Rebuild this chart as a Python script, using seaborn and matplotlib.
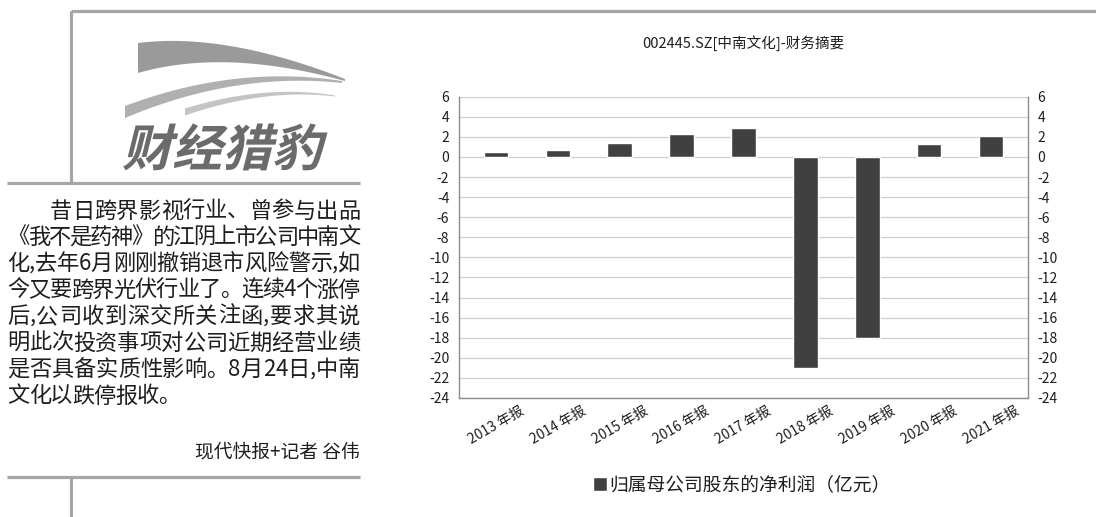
import numpy as np
import matplotlib
matplotlib.use("Agg")
import matplotlib.pyplot as plt
import seaborn as sns
from matplotlib.lines import Line2D
from matplotlib.patches import PathPatch, Polygon
from matplotlib.textpath import TextPath
from matplotlib.font_manager import FontProperties
from matplotlib.transforms import Affine2D

# data
years = ["2013 年报", "2014 年报", "2015 年报", "2016 年报", "2017 年报",
         "2018 年报", "2019 年报", "2020 年报", "2021 年报"]
profit = [0.53, 0.67, 1.43, 2.33, 2.93, -21.0, -18.0, 1.32, 2.05]
yticks = list(range(-24, 7, 2))

chart_title = "002445.SZ[中南文化]-财务摘要"
legend_text = "归属母公司股东的净利润（亿元）"

article = [
    "昔日跨界影视行业、曾参与出品",
    "《我不是药神》的江阴上市公司中南文",
    "化,去年6月刚刚撤销退市风险警示,如",
    "今又要跨界光伏行业了。连续4个涨停",
    "后,公司收到深交所关注函,要求其说",
    "明此次投资事项对公司近期经营业绩",
    "是否具备实质性影响。8月24日,中南",
    "文化以跌停报收。",
]
byline = "现代快报+记者 谷伟"

sns.set_theme(style="white")
plt.rcParams["font.family"] = ["Noto Sans CJK SC", "DejaVu Sans"]

W, H = 1096, 517
fig = plt.figure(figsize=(W / 100, H / 100), dpi=100)
fig.patch.set_facecolor("white")


def fx(x):
    return x / W


def fy(y):
    return 1 - y / H


# ---- chart ----
ax = fig.add_axes([fx(459), fy(398), (1028 - 459) / W, (398 - 96.7) / H])
sns.barplot(x=years, y=profit, color="#404040", saturation=1, width=0.4, ax=ax)
ax.set_xlim(-0.6, 8.6)
ax.set_ylim(-24, 6)
ax.set_yticks(yticks)
ax.set_yticklabels([str(v) for v in yticks])
ax.set_xticks(range(len(years)))
ax.set_xticklabels(years, rotation=30, ha="center")
ax.set_xticks(np.arange(-0.5, len(years), 1), minor=True)
ax.set_xlabel("")
ax.set_ylabel("")
ax.yaxis.grid(True, color="#cfcfcf", lw=0.9)
ax.set_axisbelow(True)
for s in ["left", "bottom", "right"]:
    ax.spines[s].set_color("#8c8c8c")
    ax.spines[s].set_linewidth(1)
ax.spines["top"].set_visible(False)
ax.tick_params(axis="y", length=0, pad=7, labelsize=10, labelcolor="#1e1e1e",
               labelright=True)
ax.tick_params(axis="x", which="major", length=0, pad=4, labelsize=10,
               labelcolor="#1e1e1e")
ax.tick_params(axis="x", which="minor", length=4, direction="in", color="#aaaaaa")

fig.text(fx(743), fy(43), chart_title, ha="center", va="center",
         fontsize=10.5, color="#1e1e1e")
fig.legend([ax.patches[0]], [legend_text], loc="center",
           bbox_to_anchor=(fx(742), fy(485)), frameon=False, fontsize=13.5,
           handlelength=0.7, handleheight=0.7, handletextpad=0.15,
           labelcolor="#1e1e1e")

# ---- left column frame ----
grey = "#a6a6a6"
frame = [((71, 1096), (10.5, 10.5)), ((71, 71), (10.5, 183)),
         ((7, 360), (183, 183)), ((7, 360), (477, 477)), ((71, 71), (477, 517))]
for xs, ys in frame:
    fig.add_artist(Line2D([fx(v) for v in xs], [fy(v) for v in ys],
                          color=grey, lw=2.3, solid_capstyle="butt"))

# logo: swoosh bands + slanted title
def band(p0, c, p1, t0, t1, col):
    t = np.linspace(0, 1, 40)[:, None]
    pts = (1 - t) ** 2 * np.array(p0) + 2 * (1 - t) * t * np.array(c) + t ** 2 * np.array(p1)
    th = (t0 + (t1 - t0) * t[:, 0])
    top = pts.copy()
    top[:, 1] -= th / 2
    bot = pts.copy()
    bot[:, 1] += th / 2
    poly = np.vstack([top, bot[::-1]])
    fig.add_artist(Polygon([(fx(x), fy(y)) for x, y in poly], closed=True,
                           facecolor=col, edgecolor="none"))

band((138, 58), (225, 40), (345, 80), 30, 2, "#9a9a9a")
band((125, 112), (235, 68), (342, 82), 12, 2, "#b0b0b0")
band((185, 112), (265, 86), (335, 96), 7, 1, "#c4c4c4")

tp = TextPath((0, 0), "财经猎豹", size=50,
              prop=FontProperties(family="Noto Sans CJK SC", weight="bold"))
tr = Affine2D().skew_deg(14, 0).translate(122, H - 166).scale(1 / W, 1 / H) + fig.transFigure
fig.add_artist(PathPatch(tp, transform=tr, facecolor="#6b6b6b", edgecolor="none"))

# ---- article text, justified per character ----
renderer = fig.canvas.get_renderer()
line_y = [211, 237, 263.5, 290, 316.5, 343, 369.5, 396]
for i, (line, y) in enumerate(zip(article, line_y)):
    x0 = 50 if i == 0 else 7
    texts = [fig.text(0, fy(y), ch, ha="left", va="center", fontsize=16,
                      color="#1e1e1e") for ch in line]
    widths = [t.get_window_extent(renderer).width for t in texts]
    if i == len(article) - 1:
        # last line is not justified: plain character pitch
        for k, t in enumerate(texts):
            t.set_x(fx(x0 + 21.6 * k))
        continue
    gap = (360 - x0 - sum(widths)) / (len(line) - 1)
    x = x0
    for t, w in zip(texts, widths):
        t.set_x(fx(x))
        x += w + gap

fig.text(fx(360), fy(452), byline, ha="right", va="center", fontsize=13.5,
         color="#1e1e1e", fontweight="medium")

fig.savefig("out.png", dpi=100, facecolor="white")
